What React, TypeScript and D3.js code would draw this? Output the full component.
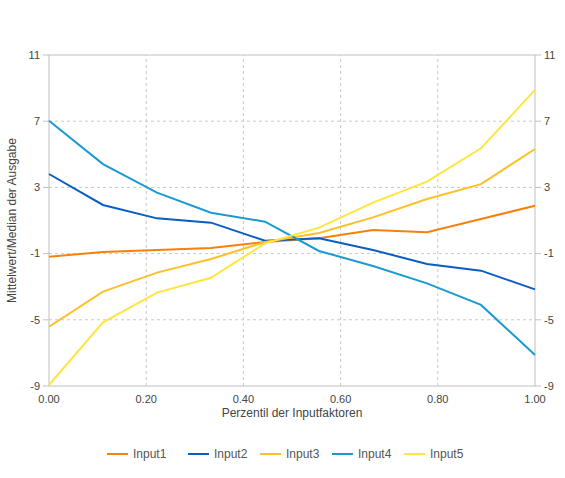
import * as d3 from 'd3';

const xValues = [0, 1 / 9, 2 / 9, 3 / 9, 4 / 9, 5 / 9, 6 / 9, 7 / 9, 8 / 9, 1];
const input1 = [-1.19, -0.9, -0.78, -0.66, -0.3, -0.07, 0.43, 0.29, 1.09, 1.89];
const input2 = [3.81, 1.94, 1.13, 0.87, -0.22, -0.08, -0.78, -1.63, -2.03, -3.16];
const input3 = [-5.42, -3.3, -2.15, -1.33, -0.3, 0.25, 1.19, 2.3, 3.2, 5.32];
const input4 = [7.03, 4.41, 2.68, 1.47, 0.93, -0.84, -1.75, -2.8, -4.1, -7.13];
const input5 = [-8.94, -5.15, -3.36, -2.46, -0.38, 0.57, 2.08, 3.35, 5.36, 8.89];
const seriesNames = ['Input1', 'Input2', 'Input3', 'Input4', 'Input5'];
const yTicks = [-9, -5, -1, 3, 7, 11];
const xTicks = [0, 0.2, 0.4, 0.6, 0.8, 1];

const COLORS = ['#f7800a', '#0a5dc2', '#ffbf26', '#1a9bd0', '#ffe53d'];

const W = 565, H = 478;
const M = { left: 49, right: 30, top: 55, bottom: 92 };
const FONT = 'Liberation Sans, Arial, sans-serif';

export default function App() {
  const series = [input1, input2, input3, input4, input5];
  const x = d3.scaleLinear().domain([0, 1]).range([M.left, W - M.right]);
  const y = d3.scaleLinear().domain([-9, 11]).range([H - M.bottom, M.top]);
  const line = d3.line<number>().x((_, i) => x(xValues[i])).y(d => y(d));

  const legendX = [107, 188, 260, 332, 404];

  return (
    <svg width={W} height={H} style={{ position: 'absolute', left: 0, top: 0, fontFamily: FONT }}>
      <rect width={W} height={H} fill="#fff" />
      {/* grid */}
      {yTicks.slice(1, -1).map(t => (
        <line key={'gy' + t} x1={x(0)} x2={x(1)} y1={y(t)} y2={y(t)}
          stroke="#c8c8c8" strokeDasharray="3,3" />
      ))}
      {xTicks.slice(1, -1).map(t => (
        <line key={'gx' + t} x1={x(t)} x2={x(t)} y1={y(-9)} y2={y(11)}
          stroke="#c8c8c8" strokeDasharray="3,3" />
      ))}
      {/* frame */}
      <rect x={x(0)} y={y(11)} width={x(1) - x(0)} height={y(-9) - y(11)}
        fill="none" stroke="#c0c0c0" />
      {/* y ticks both sides */}
      {yTicks.map(t => (
        <g key={'yt' + t}>
          <line x1={x(0) - 6} x2={x(0)} y1={y(t)} y2={y(t)} stroke="#c0c0c0" />
          <line x1={x(1)} x2={x(1) + 6} y1={y(t)} y2={y(t)} stroke="#c0c0c0" />
          <text x={x(0) - 9} y={y(t)} dy="0.35em" textAnchor="end" fontSize={11} fill="#444">{t}</text>
          <text x={x(1) + 9} y={y(t)} dy="0.35em" textAnchor="start" fontSize={11} fill="#444">{t}</text>
        </g>
      ))}
      {xTicks.map(t => (
        <text key={'xt' + t} x={x(t)} y={y(-9) + 17} textAnchor="middle" fontSize={11} fill="#444">
          {d3.format('.2f')(t)}
        </text>
      ))}
      <text x={(x(0) + x(1)) / 2} y={417} textAnchor="middle" fontSize={12} fill="#444">
        Perzentil der Inputfaktoren
      </text>
      <text transform={`translate(16,${(y(11) + y(-9)) / 2}) rotate(-90)`} textAnchor="middle"
        fontSize={12} fill="#444">
        Mittelwert/Median der Ausgabe
      </text>
      {/* lines */}
      {series.map((s, i) => (
        <path key={seriesNames[i]} d={line(s) ?? ''} fill="none" stroke={COLORS[i]} strokeWidth={2} />
      ))}
      {/* legend */}
      {seriesNames.map((n, i) => (
        <g key={'lg' + n} transform={`translate(${legendX[i]},454)`}>
          <line x1={0} x2={21} y1={0} y2={0} stroke={COLORS[i]} strokeWidth={2} />
          <text x={26} y={0} dy="0.35em" fontSize={12} fill="#555">{n}</text>
        </g>
      ))}
    </svg>
  );
}
